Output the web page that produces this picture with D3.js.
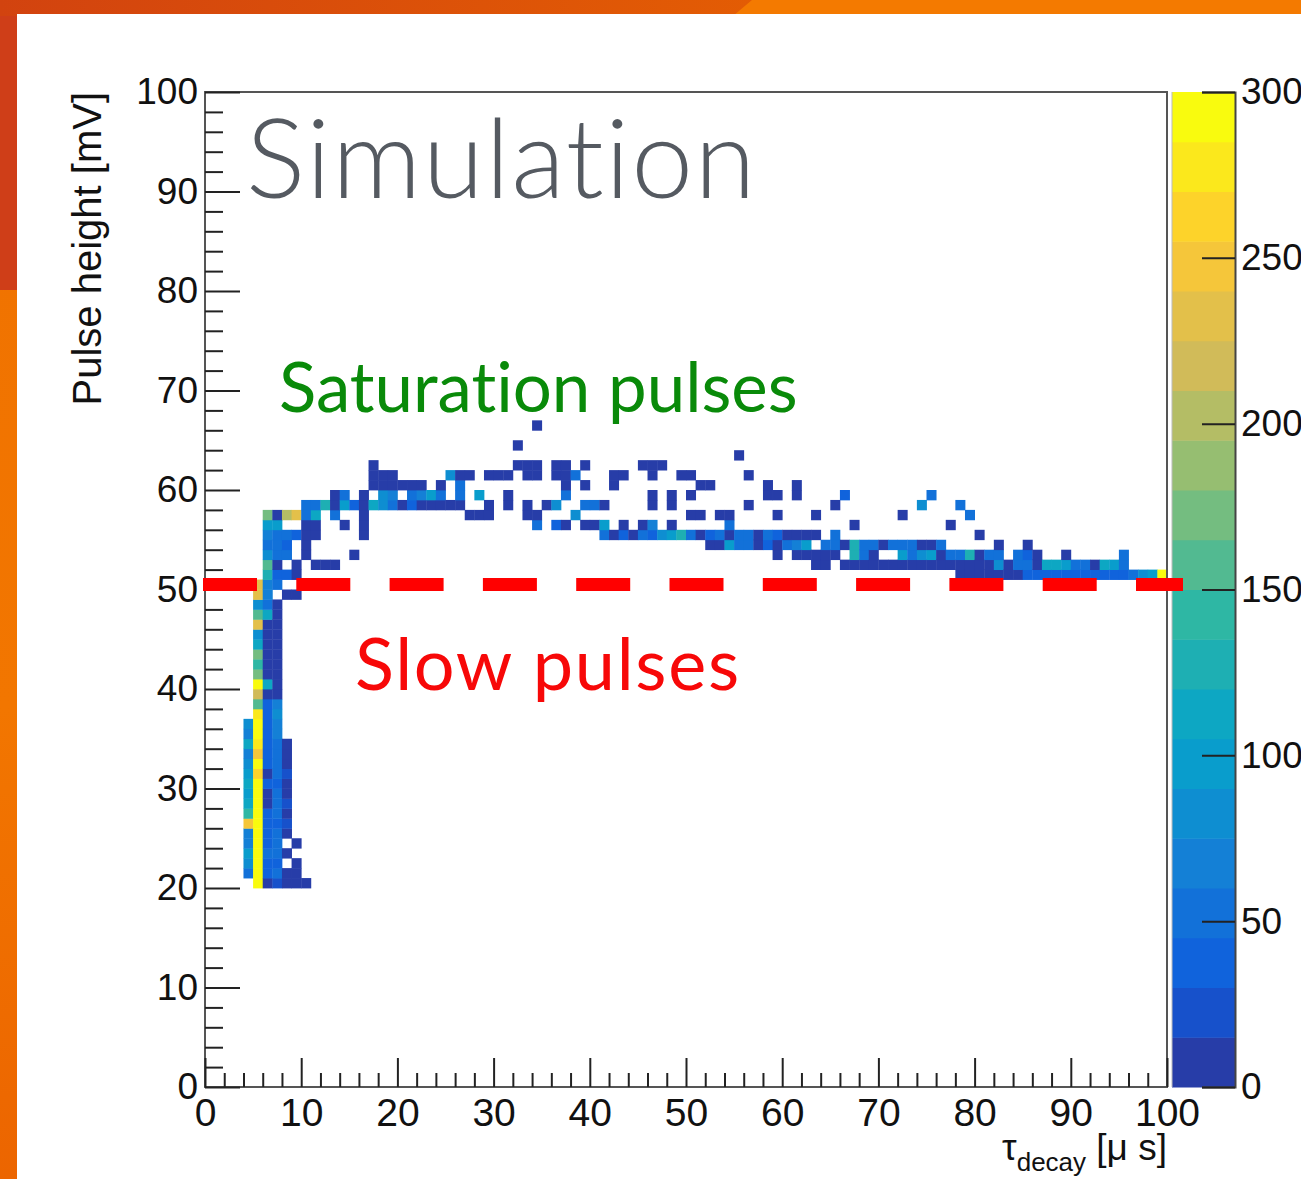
<!DOCTYPE html>
<html><head><meta charset="utf-8">
<script src="https://cdn.jsdelivr.net/npm/d3@7"></script>
<style>html,body{margin:0;padding:0;background:#fff;}svg{display:block;}text{font-variant-ligatures:none;font-feature-settings:"liga" 0;}</style>
</head><body>
<script>
// ---------------- data ----------------
const xTicks = [0,10,20,30,40,50,60,70,80,90,100];
const yTicks = [0,10,20,30,40,50,60,70,80,90,100];
const zTicks = [0,50,100,150,200,250,300];
const zMax = 300;
const nContours = 20;
const threshold = 50.5;       // mV, dashed separation line
// cells: [tau_decay bin lower edge (µs), pulse height bin lower edge (mV), entries]
const fastColumnCells = [
 [4,21,55],[4,22,80],[4,23,90],[4,24,60],[4,25,65],[4,26,245],[4,27,140],[4,28,115],[4,29,100],[4,30,110],[4,31,100],[4,32,75],[4,33,70],[4,34,105],[4,35,60],[4,36,75],
 [5,20,300],[5,21,300],[5,22,295],[5,23,300],[5,24,300],[5,25,295],[5,26,300],[5,27,300],[5,28,295],[5,29,300],[5,30,295],[5,31,255],[5,32,290],[5,33,250],[5,34,280],[5,35,290],[5,36,295],[5,37,275],[5,38,155],[5,39,210],[5,40,285],[5,41,175],[5,42,145],[5,43,165],[5,44,115],[5,45,75],[5,46,230],[5,47,160],[5,48,85],
 [6,20,10],[6,21,40],[6,22,35],[6,23,45],[6,24,40],[6,25,35],[6,26,40],[6,27,40],[6,28,12],[6,29,12],[6,30,40],[6,31,12],[6,32,35],[6,33,40],[6,34,40],[6,35,40],[6,36,40],[6,37,40],[6,38,40],[6,39,12],[6,40,110],[6,41,12],[6,42,12],[6,43,12],[6,44,12],[6,45,12],[6,46,12],[6,47,105],[6,48,50],
 [7,20,15],[7,21,45],[7,22,40],[7,23,55],[7,24,45],[7,25,50],[7,26,40],[7,27,55],[7,28,45],[7,29,50],[7,30,40],[7,31,55],[7,32,45],[7,33,50],[7,34,55],[7,35,60],[7,36,70],[7,37,75],[7,38,70],[7,39,12],[7,40,12],[7,41,12],[7,42,12],[7,43,12],[7,44,12],[7,45,12],[7,46,12],[7,47,12],[7,48,12],
 [8,20,12],[8,21,12],[8,23,12],[8,25,12],[8,26,25],[8,27,12],[8,28,25],[8,29,12],[8,30,12],[8,31,25],[8,32,12],[8,33,12],[8,34,12],
 [9,20,8],[9,21,8],[9,22,8],[9,24,8],[10,20,8]
];
const kneeCells = [
 [5,49,235],[5,50,230],
 [6,49,70],[6,50,70],[6,51,125],[6,52,150],[6,53,75],[6,54,50],[6,55,65],[6,56,90],[6,57,165],
 [7,50,45],[7,51,40],[7,52,12],[7,53,50],[7,54,45],[7,55,45],[7,56,95],[7,57,12],
 [8,49,12],[8,51,30],[8,53,45],[8,54,40],[8,55,45],[8,57,195],
 [9,49,12],[9,51,12],[9,52,12],[9,55,30],[9,57,235],
 [10,53,12],[10,54,12],[10,55,12],[10,56,12],[10,57,45],[10,58,45],
 [11,52,12],[11,55,12],[11,56,12],[11,57,115],[11,58,45],
 [12,52,12],[12,58,130],
 [13,52,12],[13,57,45],[13,58,12],[13,59,12],
 [14,56,12],[14,58,90],[14,59,50],
 [15,53,12],[15,58,30],
 [16,55,12],[16,56,12],[16,57,12],[16,58,12],[16,59,12]
];
const plateauCells = [
 [17,58,110],[17,60,12],[17,61,12],[17,62,12],
 [18,58,85],[18,59,80],[18,60,12],[18,61,12],
 [19,58,55],[19,59,60],[19,60,12],[19,61,12],
 [20,58,12],[20,60,12],
 [21,58,40],[21,59,55],[21,60,12],
 [22,58,12],[22,59,70],[22,60,12],
 [23,58,12],[23,59,100],
 [24,58,12],[24,59,45],[24,60,12],
 [25,58,12],[25,61,85],
 [26,58,12],[26,59,45],[26,60,45],[26,61,12],
 [27,57,12],[27,61,12],
 [28,57,12],[28,59,90],
 [29,57,12],[29,58,12],[29,61,12],
 [30,61,12],
 [31,58,12],[31,59,12],[31,61,12],
 [32,62,12],[32,64,12],
 [33,57,12],[33,58,12],[33,61,12],[33,62,12],
 [34,56,45],[34,57,12],[34,61,12],[34,62,12],[34,66,12],
 [35,58,12],
 [36,56,40],[36,58,85],[36,61,12],[36,62,12],
 [37,56,12],[37,59,45],[37,60,12],[37,61,12],[37,62,12],
 [38,57,85],[38,61,45],
 [39,56,12],[39,58,45],[39,60,12],[39,62,12],
 [40,56,12],[40,58,45],
 [41,55,45],[41,56,90],[41,58,12],
 [42,55,12],[42,60,12],[42,61,12],
 [43,55,40],[43,56,12],[43,61,12],
 [44,55,12],
 [45,55,45],[45,56,12],[45,62,12],
 [46,55,40],[46,56,60],[46,58,12],[46,59,12],[46,61,12],[46,62,12],
 [47,55,85],[47,62,12],
 [48,55,90],[48,56,12],[48,58,12],[48,59,12],
 [49,55,125],[49,61,12],
 [50,55,45],[50,57,12],[50,59,12],[50,61,12]
];
const tailCells = [
 [51,55,12],[51,57,12],[51,60,12],
 [52,54,12],[52,55,40],[52,60,12],
 [53,54,12],[53,55,45],[53,57,12],
 [54,54,90],[54,55,12],[54,56,50],[54,57,12],
 [55,54,45],[55,55,50],[55,63,12],
 [56,54,45],[56,55,50],[56,58,12],[56,61,12],
 [57,54,12],[57,55,12],
 [58,54,40],[58,55,45],[58,59,12],[58,60,12],
 [59,53,12],[59,54,12],[59,55,40],[59,57,12],[59,59,12],
 [60,54,45],[60,55,12],
 [61,53,12],[61,54,60],[61,55,12],[61,59,12],[61,60,12],
 [62,53,12],[62,54,100],[62,55,12],
 [63,52,12],[63,53,12],[63,55,12],[63,57,12],
 [64,52,12],[64,53,12],[64,54,45],
 [65,53,12],[65,54,50],[65,55,45],[65,58,12],
 [66,52,12],[66,54,12],[66,59,40],
 [67,52,12],[67,53,125],[67,54,120],[67,56,12],
 [68,52,12],[68,53,50],[68,54,45],
 [69,52,12],[69,53,12],[69,54,50],
 [70,52,12],[70,54,12],
 [71,52,12],[71,54,45],
 [72,52,12],[72,53,90],[72,54,50],[72,57,12],
 [73,52,12],[73,53,50],[73,54,45],
 [74,52,12],[74,53,85],[74,54,12],[74,58,85],
 [75,52,12],[75,53,100],[75,54,12],[75,59,45],
 [76,52,12],[76,53,12],[76,54,45],
 [77,52,12],[77,53,45],[77,56,12],
 [78,51,12],[78,52,12],[78,53,45],[78,58,45],
 [79,51,12],[79,52,12],[79,53,130],[79,57,45],
 [80,51,12],[80,52,12],[80,53,12],[80,55,12],
 [81,51,12],[81,52,12],[81,53,45],
 [82,51,12],[82,52,80],[82,53,45],[82,54,12],
 [83,51,12],[83,52,12],
 [84,51,12],[84,52,45],[84,53,45],
 [85,51,35],[85,52,45],[85,53,40],[85,54,12],
 [86,51,35],[86,52,12],[86,53,12],
 [87,51,35],[87,52,110],
 [88,51,35],[88,52,105],
 [89,51,35],[89,52,90],[89,53,12],
 [90,51,40],[90,52,45],
 [91,51,35],[91,52,45],
 [92,51,35],[92,52,12],
 [93,51,40],[93,52,110],
 [94,51,40],[94,52,100],
 [95,51,40],[95,52,45],[95,53,45],
 [96,51,55],[97,51,85],[98,51,100],[99,51,300]
];
const cells = [].concat(fastColumnCells, kneeCells, plateauCells, tailCells);

// ---------------- layout ----------------
const W = 1301, H = 1179;
const svg = d3.select("body").append("svg").attr("width", W).attr("height", H)
  .style("font-family", "'Liberation Sans', Arial, Helvetica, sans-serif");

// slide background
const defs = svg.append("defs");
const g1 = defs.append("linearGradient").attr("id","topL").attr("x1","0").attr("x2","1").attr("y1","0").attr("y2","0");
g1.append("stop").attr("offset","0").attr("stop-color","#d2430f");
g1.append("stop").attr("offset","1").attr("stop-color","#e35c04");
const g2 = defs.append("linearGradient").attr("id","leftS").attr("x1","0").attr("x2","0").attr("y1","0").attr("y2","1");
g2.append("stop").attr("offset","0").attr("stop-color","#ef7100");
g2.append("stop").attr("offset","0.6").attr("stop-color","#f27600");
g2.append("stop").attr("offset","1").attr("stop-color","#ec6500");
svg.append("rect").attr("x",0).attr("y",0).attr("width",W).attr("height",H).attr("fill","#f47a00");
svg.append("rect").attr("x",0).attr("y",0).attr("width",20).attr("height",H).attr("fill","url(#leftS)");
svg.append("rect").attr("x",0).attr("y",0).attr("width",20).attr("height",290).attr("fill","#cf3e18");
svg.append("path").attr("d","M0,0 L752,0 L733,16 L0,16 Z").attr("fill","url(#topL)");
svg.append("rect").attr("x",17).attr("y",14).attr("width",W-17).attr("height",H-14).attr("fill","#ffffff");

// scales
const x = d3.scaleLinear().domain([0,100]).range([205,1167]);
const y = d3.scaleLinear().domain([0,100]).range([1087,92]);
const z = d3.scaleLinear().domain([0,zMax]).range([1087,92]);

// ROOT kBird palette, 255 colours, 20 contours
const st = [0,0.125,0.25,0.375,0.5,0.625,0.75,0.875,1];
const rr = [0.2082,0.0592,0.0780,0.0232,0.1802,0.5301,0.8186,0.9956,0.9764];
const gg = [0.1664,0.3599,0.5041,0.6419,0.7178,0.7492,0.7328,0.7862,0.9832];
const bb = [0.5293,0.8684,0.8385,0.7914,0.6425,0.4662,0.3499,0.1968,0.0539];
const sR = d3.scaleLinear().domain(st).range(rr), sG = d3.scaleLinear().domain(st).range(gg), sB = d3.scaleLinear().domain(st).range(bb);
function bandColor(b){
  const k = Math.floor((b+0.99)*255/nContours);
  const t = Math.min(k,254)/254;
  return d3.rgb(sR(t)*255, sG(t)*255, sB(t)*255).formatHex();
}
function cellColor(c){
  const b = Math.max(0, Math.min(nContours-1, Math.floor(c*nContours/zMax)));
  return bandColor(b);
}

// histogram cells
svg.append("g").selectAll("rect").data(cells).join("rect")
  .attr("x", d => x(d[0]))
  .attr("y", d => y(d[1]+1))
  .attr("width", d => x(d[0]+1)-x(d[0]) + 0.4)
  .attr("height", d => y(d[1])-y(d[1]+1) + 0.4)
  .attr("fill", d => cellColor(d[2]));

// frame
svg.append("rect").attr("x",x(0)).attr("y",y(100)).attr("width",x(100)-x(0)).attr("height",y(0)-y(100))
  .attr("fill","none").attr("stroke","#555").attr("stroke-width",2);

// axes
const minorY = d3.range(0,101,2).filter(v => v%10 !== 0);
const gy = svg.append("g").attr("transform",`translate(${x(0)},0)`);
gy.call(d3.axisLeft(y).tickValues(yTicks).tickSize(-35).tickPadding(7));
gy.append("g").call(d3.axisLeft(y).tickValues(minorY).tickSize(-18).tickFormat(""));
const gx = svg.append("g").attr("transform",`translate(0,${y(0)})`);
gx.call(d3.axisBottom(x).tickValues(xTicks).tickSize(-29).tickPadding(11));
gx.append("g").call(d3.axisBottom(x).tickValues(d3.range(0,101,2).filter(v=>v%10!==0)).tickSize(-14).tickFormat(""));
svg.selectAll(".domain").remove();
svg.selectAll(".tick line").attr("stroke","#222").attr("stroke-width",2);
svg.selectAll(".tick text").attr("font-size",37).attr("fill","#111").attr("font-family","'Liberation Sans', Arial, sans-serif");
gx.selectAll(".tick text").attr("font-size",39);

// colour bar
const bands = d3.range(nContours);
const cbX0 = 1172, cbX1 = 1235;
svg.append("g").selectAll("rect").data(bands).join("rect")
  .attr("x", cbX0).attr("width", cbX1-cbX0)
  .attr("y", b => z((b+1)*zMax/nContours))
  .attr("height", b => z(b*zMax/nContours) - z((b+1)*zMax/nContours) + 0.5)
  .attr("fill", b => bandColor(b));
svg.append("line").attr("x1",cbX0).attr("x2",cbX0).attr("y1",z(0)).attr("y2",z(zMax)).attr("stroke","#bbb").attr("stroke-width",1);
const gz = svg.append("g").attr("transform",`translate(${cbX1},0)`);
gz.call(d3.axisRight(z).tickValues(zTicks).tickSize(-33).tickPadding(6));
gz.select(".domain").attr("stroke","#444").attr("stroke-width",2);
gz.selectAll(".tick line").attr("stroke","#222").attr("stroke-width",2);
gz.selectAll(".tick text").attr("font-size",37).attr("fill","#111");

// threshold dashed line
svg.append("line").attr("x1",x(0)-2).attr("x2",x(100)+16).attr("y1",y(threshold)).attr("y2",y(threshold))
  .attr("stroke","#ff0000").attr("stroke-width",13).attr("stroke-dasharray","54 39.3");

// axis titles
svg.append("text").attr("transform",`translate(101,${y(100)}) rotate(-90)`).attr("text-anchor","end")
  .attr("font-size",40).attr("fill","#111").text("Pulse height [mV]");
const xt = svg.append("text").attr("x",x(100)).attr("y",1160).attr("text-anchor","end").attr("font-size",37).attr("fill","#111");
xt.append("tspan").text("τ");
xt.append("tspan").attr("font-size",26).attr("dy",11).text("decay");
xt.append("tspan").attr("dy",-11).text(" [μ s]");

// annotations
svg.append("text").attr("x",246).attr("y",198).attr("font-family","Lato, 'Open Sans', sans-serif").attr("font-weight",300)
  .attr("font-size",111).attr("letter-spacing",1.4).attr("fill","#555a61").text("Simulation");
svg.append("text").attr("x",279).attr("y",412).attr("font-family","Lato, 'Open Sans', sans-serif")
  .attr("font-size",69).attr("fill","#098a09").text("Saturation pulses");
svg.append("text").attr("x",355).attr("y",690).attr("font-family","Lato, 'Open Sans', sans-serif")
  .attr("font-size",72).attr("letter-spacing",1.7).attr("fill","#f70808").text("Slow pulses");
</script>
</body></html>
